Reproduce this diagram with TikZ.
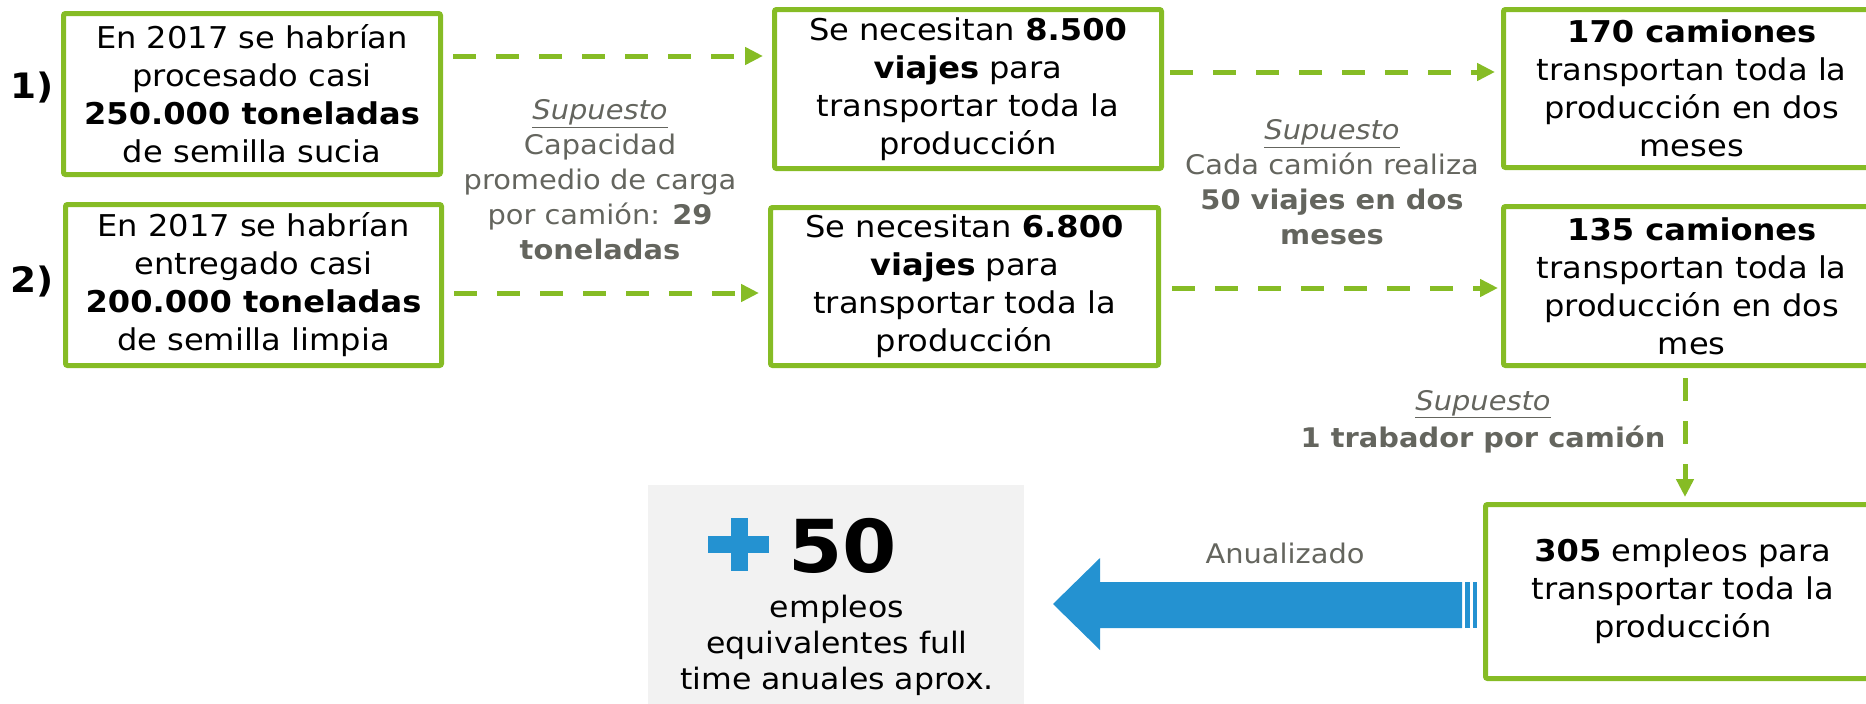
\documentclass[tikz,border=0pt]{standalone}
\usepackage{fontspec}
\setmainfont{DejaVu Sans}[FakeStretch=1.07]
\usetikzlibrary{arrows.meta}
\definecolor{dgreen}{HTML}{86BC25}
\definecolor{dblue}{HTML}{2492D1}
\definecolor{tgray}{RGB}{100,101,94}
\definecolor{bggray}{HTML}{F2F2F2}
\begin{document}
\begin{tikzpicture}[x=1pt,y=-1pt,
  box/.style={draw=dgreen,line width=5pt,rounded corners=2pt,align=center,inner sep=0pt,font=\fontsize{30}{38}\selectfont},
  flow/.style={draw=dgreen,line width=5pt,dash pattern=on 23pt off 20pt,-{Triangle[length=18pt,width=17pt]}},
  note/.style={text=tgray,align=center,font=\fontsize{27}{35}\selectfont},
  num/.style={font=\fontsize{35}{40}\selectfont\bfseries}]
\useasboundingbox (0,0) rectangle (1866,704);
% boxes
\node[box,minimum width=377pt,minimum height=161pt] (b1) at (252,94) {En 2017 se habrían\\procesado casi\\\textbf{250.000 toneladas}\\de semilla sucia};
\node[box,minimum width=376pt,minimum height=161pt] (b2) at (253.5,285) {En 2017 se habrían\\entregado casi\\\textbf{200.000 toneladas}\\de semilla limpia};
\node[box,minimum width=387pt,minimum height=159pt] (m1) at (968,89) {Se necesitan \textbf{8.500}\\\textbf{viajes} para\\transportar toda la\\producción};
\node[box,minimum width=388pt,minimum height=158pt] (m2) at (964.5,286.5) {Se necesitan \textbf{6.800}\\\textbf{viajes} para\\transportar toda la\\producción};
\node[box,minimum width=376.5pt,minimum height=158pt] (r1) at (1691.75,88.5) {\textbf{170 camiones}\\transportan toda la\\producción en dos\\meses};
\node[box,minimum width=376.5pt,minimum height=159pt] (r2) at (1691.75,286) {\textbf{135 camiones}\\transportan toda la\\producción en dos\\mes};
\node[box,minimum width=394.5pt,minimum height=174pt] (br) at (1682.75,591.5) {\textbf{305} empleos para\\transportar toda la\\producción};
% row labels
\node[num] (n1) at (32,88) {1)};
\node[num] (n2) at (32,282) {2)};
% dashed connectors
\draw[flow,shorten <=10pt,shorten >=9pt] ([yshift=38pt]b1.east) -- ([yshift=33pt]m1.west);
\draw[flow,shorten <=10pt,shorten >=9pt] ([yshift=-8pt]b2.east) -- ([yshift=-6.5pt]m2.west);
\draw[flow,shorten <=6pt,shorten >=6pt] ([yshift=17pt]m1.east) -- ([yshift=16.5pt]r1.west);
\draw[flow,shorten <=11pt,shorten >=3pt] ([yshift=-1.5pt]m2.east) -- ([yshift=-2pt]r2.west);
\draw[flow,shorten <=10pt,shorten >=5pt] ([xshift=-6.75pt]r2.south) -- ([xshift=2.25pt]br.north);
% assumptions
\node[note] (s1) at (600,180) {\underline{\textit{Supuesto}}\\Capacidad\\promedio de carga\\por camión: \textbf{29}\\\textbf{toneladas}};
\node[note] (s2) at (1332,182.5) {\underline{\textit{Supuesto}}\\Cada camión realiza\\\textbf{50 viajes en dos}\\\textbf{meses}};
\node[note,font=\fontsize{27}{37}\selectfont] (s3) at (1483,421.5) {\underline{\textit{Supuesto}}\\\textbf{1 trabador por camión}};
% result box
\node[fill=bggray,minimum width=376pt,minimum height=225pt,inner sep=0pt,anchor=north west] (res) at (648,485) {};
\fill[dblue] (708,536) rectangle (769,553);
\fill[dblue] (731,518) rectangle (748,571);
\node[anchor=base west,inner sep=0pt,font=\fontsize{73}{80}\selectfont\bfseries] (fifty) at (788,572) {50};
\node[align=center,font=\fontsize{29.5}{36}\selectfont] (emp) at (837,645) {empleos\\equivalentes full\\time anuales aprox.};
% big arrow
\fill[dblue] (1053,604) -- (1100,558) -- (1100,582) -- (1462,582) -- (1462,628) -- (1100,628) -- (1100,650) -- cycle;
\fill[dblue] (1465,582) rectangle (1470,628);
\fill[dblue] (1473,582) rectangle (1477,628);
\node[text=tgray,anchor=base,font=\fontsize{27}{34}\selectfont] (anu) at (1285,563) {Anualizado};
\end{tikzpicture}
\end{document}
